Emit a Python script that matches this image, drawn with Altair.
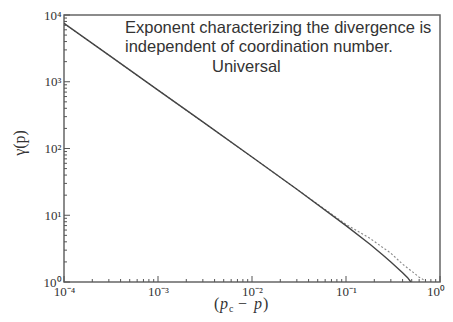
import altair as alt
import pandas as pd

# Series
eps_solid = [1e-4, 3e-4, 1e-3, 3e-3, 1e-2, 3e-2, 0.1, 0.18, 0.25, 0.3, 0.4, 0.45, 0.49]
chi_solid = [7500, 2500, 750, 250, 74.5, 24.5, 7.0, 3.67, 2.5, 2.0, 1.38, 1.17, 1.0]
eps_dot = [1e-4, 1e-3, 1e-2, 3e-2, 0.1, 0.18, 0.3, 0.4, 0.5, 0.6, 0.73]
chi_dot = [7500, 750, 74.5, 24.5, 7.3, 4.5, 2.7, 1.85, 1.45, 1.18, 1.0]

x_major = [1e-4, 1e-3, 1e-2, 1e-1, 1.0]
x_labeled = [1e-4, 1e-3, 1e-2, 1e-1]
y_major = [1, 10, 100, 1000, 10000]
mults = [2, 3, 4, 5, 6, 7, 8, 9]
x_minor = [m * d for d in [1e-4, 1e-3, 1e-2, 1e-1] for m in mults]
y_minor = [m * d for d in [1, 10, 100, 1000] for m in mults]

note_lines = ["Exponent characterizing the divergence is",
              "independent of coordination number."]
note_universal = "Universal"

W, H = 376, 267
xs = alt.Scale(type="log", domain=[1e-4, 1.0], nice=False)
ys = alt.Scale(type="log", domain=[1, 10000], nice=False)

xlab = ("datum.value < 0.0005 ? '10⁻⁴' : datum.value < 0.005 ? '10⁻³' : "
        "datum.value < 0.05 ? '10⁻²' : datum.value < 0.5 ? '10⁻¹' : '10⁰'")
ylab = ("datum.value < 5 ? '10⁰' : datum.value < 50 ? '10¹' : "
        "datum.value < 500 ? '10²' : datum.value < 5000 ? '10³' : '10⁴'")

axis_common = dict(ticks=False, domain=False, grid=False, title=None,
                   labelFont="Liberation Serif", labelFontSize=13,
                   labelColor="#333", labelFlush=False)

df_s = pd.DataFrame({"eps": eps_solid, "chi": chi_solid})
df_d = pd.DataFrame({"eps": eps_dot, "chi": chi_dot})

dotted = alt.Chart(df_d).mark_line(color="#888", strokeWidth=1.1,
                                   strokeDash=[2, 2], clip=True).encode(
    x=alt.X("eps:Q", scale=xs,
            axis=alt.Axis(values=x_labeled, labelExpr=xlab, labelPadding=3, **axis_common)),
    y=alt.Y("chi:Q", scale=ys,
            axis=alt.Axis(values=y_major, labelExpr=ylab, labelPadding=3, **axis_common)),
)
solid = alt.Chart(df_s).mark_line(color="#444", strokeWidth=1.4, clip=True).encode(
    x=alt.X("eps:Q", scale=xs), y=alt.Y("chi:Q", scale=ys))

tick_col = "#555"
xmaj = alt.Chart(pd.DataFrame({"v": x_major})).mark_rule(color=tick_col, strokeWidth=1).encode(
    x=alt.X("v:Q", scale=xs), y=alt.value(H), y2=alt.value(H - 6))
xmin = alt.Chart(pd.DataFrame({"v": x_minor})).mark_rule(color=tick_col, strokeWidth=1).encode(
    x=alt.X("v:Q", scale=xs), y=alt.value(H), y2=alt.value(H - 3))
ymaj = alt.Chart(pd.DataFrame({"v": y_major})).mark_rule(color=tick_col, strokeWidth=1).encode(
    y=alt.Y("v:Q", scale=ys), x=alt.value(0), x2=alt.value(6))
ymin = alt.Chart(pd.DataFrame({"v": y_minor})).mark_rule(color=tick_col, strokeWidth=1).encode(
    y=alt.Y("v:Q", scale=ys), x=alt.value(0), x2=alt.value(3))


def txt(s, x, y, size=14, font="Liberation Sans", style="normal", align="left",
        angle=0, color="#333", baseline="alphabetic"):
    return alt.Chart(pd.DataFrame({"t": [s]})).mark_text(
        font=font, fontSize=size, fontStyle=style, align=align, angle=angle,
        color=color, baseline=baseline).encode(
        text="t:N", x=alt.value(x), y=alt.value(y))


notes = [
    txt(note_lines[0], 61, 18, size=16.5),
    txt(note_lines[1], 61, 37, size=16.5),
    txt(note_universal, 148, 57, size=16.5),
]

# last x tick label, right-aligned so it stays inside the page
last_label = txt("10⁰", W + 5, H + 14, size=13, font="Liberation Serif", align="right")

# x title: (p_c − p)
tx, ty = 150, 294
xtitle = [
    txt("(", tx, ty, size=16, font="Liberation Serif"),
    txt("p", tx + 6, ty, size=16, font="Liberation Serif", style="italic"),
    txt("c", tx + 15, ty + 3, size=10, font="Liberation Serif"),
    txt("−", tx + 24, ty, size=16, font="Liberation Serif"),
    txt("p", tx + 40, ty, size=16, font="Liberation Serif", style="italic"),
    txt(")", tx + 49, ty, size=16, font="Liberation Serif"),
]
ytitle = [txt("γ(p)", -44, 128, size=16, font="Liberation Serif", angle=270,
              align="center", baseline="middle")]

chart = alt.layer(dotted, solid, xmaj, xmin, ymaj, ymin, *notes, last_label,
                  *xtitle, *ytitle).properties(
    width=W, height=H,
    autosize=alt.AutoSizeParams(type="none"),
    padding={"left": 56, "top": 7, "right": 5, "bottom": 31},
).configure_view(stroke="#666", strokeWidth=1.5)

chart.save("out.html", embed_options={"renderer": "svg", "actions": False})
